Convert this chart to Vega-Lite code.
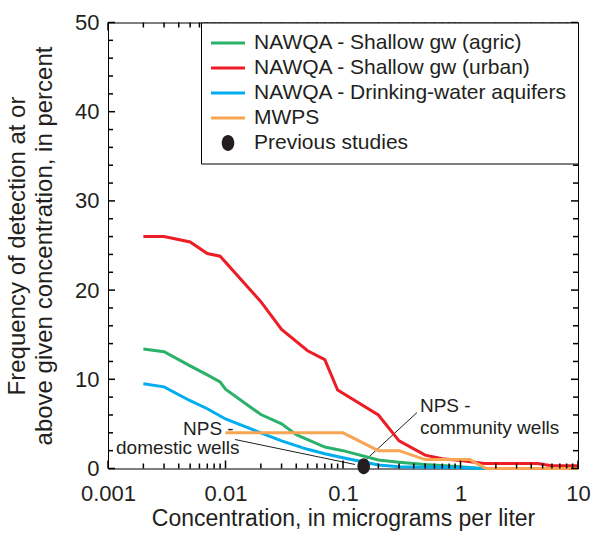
{
  "$schema": "https://vega.github.io/schema/vega-lite/v6.json",
  "width": 470,
  "height": 446,
  "autosize": {"type": "none"},
  "padding": {"left": 108, "top": 22.5, "right": 21, "bottom": 66.5},
  "background": "white",
  "config": {
    "view": {"stroke": "black", "strokeWidth": 1},
    "font": "Liberation Sans",
    "axis": {"domain": false, "grid": false, "ticks": false, "labelColor": "#231F20", "titleColor": "#231F20", "titleFontWeight": "normal", "labelFlush": false, "labelOverlap": false},
    "legend": {"labelFont": "Liberation Sans", "labelColor": "#231F20"}
  },
  "datasets": {
    "lines": [
      {"s": "NAWQA - Shallow gw (agric)", "c": 0.002, "f": 13.4},
      {"s": "NAWQA - Shallow gw (agric)", "c": 0.003, "f": 13.1},
      {"s": "NAWQA - Shallow gw (agric)", "c": 0.005, "f": 11.5},
      {"s": "NAWQA - Shallow gw (agric)", "c": 0.007, "f": 10.5},
      {"s": "NAWQA - Shallow gw (agric)", "c": 0.009, "f": 9.7},
      {"s": "NAWQA - Shallow gw (agric)", "c": 0.01, "f": 8.9},
      {"s": "NAWQA - Shallow gw (agric)", "c": 0.02, "f": 6.05},
      {"s": "NAWQA - Shallow gw (agric)", "c": 0.03, "f": 5.0},
      {"s": "NAWQA - Shallow gw (agric)", "c": 0.04, "f": 3.8},
      {"s": "NAWQA - Shallow gw (agric)", "c": 0.07, "f": 2.4},
      {"s": "NAWQA - Shallow gw (agric)", "c": 0.1, "f": 2.0},
      {"s": "NAWQA - Shallow gw (agric)", "c": 0.2, "f": 0.95},
      {"s": "NAWQA - Shallow gw (agric)", "c": 0.3, "f": 0.7},
      {"s": "NAWQA - Shallow gw (agric)", "c": 0.5, "f": 0.45},
      {"s": "NAWQA - Shallow gw (agric)", "c": 1.0, "f": 0.2},
      {"s": "NAWQA - Shallow gw (agric)", "c": 1.5, "f": 0},
      {"s": "NAWQA - Shallow gw (agric)", "c": 10, "f": 0},
      {"s": "NAWQA - Shallow gw (urban)", "c": 0.002, "f": 26.0},
      {"s": "NAWQA - Shallow gw (urban)", "c": 0.003, "f": 26.0},
      {"s": "NAWQA - Shallow gw (urban)", "c": 0.005, "f": 25.4},
      {"s": "NAWQA - Shallow gw (urban)", "c": 0.007, "f": 24.1},
      {"s": "NAWQA - Shallow gw (urban)", "c": 0.009, "f": 23.8},
      {"s": "NAWQA - Shallow gw (urban)", "c": 0.02, "f": 18.7},
      {"s": "NAWQA - Shallow gw (urban)", "c": 0.03, "f": 15.6},
      {"s": "NAWQA - Shallow gw (urban)", "c": 0.05, "f": 13.2},
      {"s": "NAWQA - Shallow gw (urban)", "c": 0.07, "f": 12.2},
      {"s": "NAWQA - Shallow gw (urban)", "c": 0.09, "f": 8.8},
      {"s": "NAWQA - Shallow gw (urban)", "c": 0.2, "f": 6.0},
      {"s": "NAWQA - Shallow gw (urban)", "c": 0.3, "f": 3.1},
      {"s": "NAWQA - Shallow gw (urban)", "c": 0.5, "f": 1.5},
      {"s": "NAWQA - Shallow gw (urban)", "c": 0.7, "f": 1.1},
      {"s": "NAWQA - Shallow gw (urban)", "c": 1.0, "f": 0.9},
      {"s": "NAWQA - Shallow gw (urban)", "c": 1.6, "f": 0.55},
      {"s": "NAWQA - Shallow gw (urban)", "c": 4.5, "f": 0.55},
      {"s": "NAWQA - Shallow gw (urban)", "c": 6.0, "f": 0.3},
      {"s": "NAWQA - Shallow gw (urban)", "c": 10, "f": 0.3},
      {"s": "NAWQA - Drinking-water aquifers", "c": 0.002, "f": 9.5},
      {"s": "NAWQA - Drinking-water aquifers", "c": 0.003, "f": 9.15},
      {"s": "NAWQA - Drinking-water aquifers", "c": 0.005, "f": 7.6},
      {"s": "NAWQA - Drinking-water aquifers", "c": 0.007, "f": 6.7},
      {"s": "NAWQA - Drinking-water aquifers", "c": 0.01, "f": 5.55},
      {"s": "NAWQA - Drinking-water aquifers", "c": 0.02, "f": 4.0},
      {"s": "NAWQA - Drinking-water aquifers", "c": 0.03, "f": 3.1},
      {"s": "NAWQA - Drinking-water aquifers", "c": 0.05, "f": 2.15},
      {"s": "NAWQA - Drinking-water aquifers", "c": 0.07, "f": 1.65},
      {"s": "NAWQA - Drinking-water aquifers", "c": 0.1, "f": 1.2},
      {"s": "NAWQA - Drinking-water aquifers", "c": 0.2, "f": 0.4},
      {"s": "NAWQA - Drinking-water aquifers", "c": 0.3, "f": 0.2},
      {"s": "NAWQA - Drinking-water aquifers", "c": 1.0, "f": 0.1},
      {"s": "NAWQA - Drinking-water aquifers", "c": 1.5, "f": 0},
      {"s": "NAWQA - Drinking-water aquifers", "c": 10, "f": 0},
      {"s": "MWPS", "c": 0.01, "f": 4.0},
      {"s": "MWPS", "c": 0.1, "f": 4.0},
      {"s": "MWPS", "c": 0.2, "f": 2.0},
      {"s": "MWPS", "c": 0.3, "f": 2.0},
      {"s": "MWPS", "c": 0.5, "f": 1.0},
      {"s": "MWPS", "c": 1.2, "f": 1.0},
      {"s": "MWPS", "c": 1.65, "f": 0},
      {"s": "MWPS", "c": 10, "f": 0}
    ],
    "pts": [
      {"s": "Previous studies", "c": 0.15, "f": 0.25}
    ],
    "notes": [
      {"t": "NPS -", "c": 0.00435, "f": 4.48},
      {"t": "domestic wells", "c": 0.00117, "f": 2.3},
      {"t": "NPS -", "c": 0.452, "f": 7.0},
      {"t": "community wells", "c": 0.452, "f": 4.53}
    ],
    "leaders": [
      {"c": 0.01205, "f": 3.25, "c2": 0.1265, "f2": 0.45},
      {"c": 0.157, "f": 1.0, "c2": 0.426, "f2": 6.27}
    ],
    "xt": [
      {"v": 0.001, "k": "major"}, {"v": 0.002, "k": "minor"}, {"v": 0.003, "k": "minor"}, {"v": 0.004, "k": "minor"}, {"v": 0.005, "k": "minor"}, {"v": 0.006, "k": "minor"}, {"v": 0.007, "k": "minor"}, {"v": 0.008, "k": "minor"}, {"v": 0.009, "k": "minor"},
      {"v": 0.01, "k": "major"}, {"v": 0.02, "k": "minor"}, {"v": 0.03, "k": "minor"}, {"v": 0.04, "k": "minor"}, {"v": 0.05, "k": "minor"}, {"v": 0.06, "k": "minor"}, {"v": 0.07, "k": "minor"}, {"v": 0.08, "k": "minor"}, {"v": 0.09, "k": "minor"},
      {"v": 0.1, "k": "major"}, {"v": 0.2, "k": "minor"}, {"v": 0.3, "k": "minor"}, {"v": 0.4, "k": "minor"}, {"v": 0.5, "k": "minor"}, {"v": 0.6, "k": "minor"}, {"v": 0.7, "k": "minor"}, {"v": 0.8, "k": "minor"}, {"v": 0.9, "k": "minor"},
      {"v": 1, "k": "major"}, {"v": 2, "k": "minor"}, {"v": 3, "k": "minor"}, {"v": 4, "k": "minor"}, {"v": 5, "k": "minor"}, {"v": 6, "k": "minor"}, {"v": 7, "k": "minor"}, {"v": 8, "k": "minor"}, {"v": 9, "k": "minor"},
      {"v": 10, "k": "major"}
    ],
    "yt": [
      {"v": 0, "k": "major"}, {"v": 2, "k": "minor"}, {"v": 4, "k": "minor"}, {"v": 6, "k": "minor"}, {"v": 8, "k": "minor"},
      {"v": 10, "k": "major"}, {"v": 12, "k": "minor"}, {"v": 14, "k": "minor"}, {"v": 16, "k": "minor"}, {"v": 18, "k": "minor"},
      {"v": 20, "k": "major"}, {"v": 22, "k": "minor"}, {"v": 24, "k": "minor"}, {"v": 26, "k": "minor"}, {"v": 28, "k": "minor"},
      {"v": 30, "k": "major"}, {"v": 32, "k": "minor"}, {"v": 34, "k": "minor"}, {"v": 36, "k": "minor"}, {"v": 38, "k": "minor"},
      {"v": 40, "k": "major"}, {"v": 42, "k": "minor"}, {"v": 44, "k": "minor"}, {"v": 46, "k": "minor"}, {"v": 48, "k": "minor"},
      {"v": 50, "k": "major"}
    ]
  },
  "resolve": {"axis": {"x": "independent", "y": "independent"}},
  "layer": [
    {
      "data": {"name": "leaders"},
      "mark": {"type": "rule", "color": "#231F20", "strokeWidth": 1},
      "encoding": {
        "x": {"field": "c", "type": "quantitative", "scale": {"type": "log", "domain": [0.001, 10], "nice": false}, "axis": null},
        "x2": {"field": "c2"},
        "y": {"field": "f", "type": "quantitative", "scale": {"domain": [0, 50], "nice": false}, "axis": null},
        "y2": {"field": "f2"}
      }
    },
    {
      "data": {"name": "lines"},
      "mark": {"type": "line", "strokeWidth": 3},
      "encoding": {
        "x": {
          "field": "c", "type": "quantitative",
          "scale": {"type": "log", "domain": [0.001, 10], "nice": false},
          "axis": {
            "orient": "bottom",
            "values": [0.001, 0.01, 0.1, 1, 10],
            "labelExpr": "format(datum.value, '~g')",
            "labelPadding": 15,
            "labelFontSize": 22,
            "title": "Concentration, in micrograms per liter",
            "titleFontSize": 23,
            "titlePadding": 3
          }
        },
        "y": {
          "field": "f", "type": "quantitative",
          "scale": {"domain": [0, 50], "nice": false},
          "axis": {
            "orient": "left",
            "values": [0, 10, 20, 30, 40, 50],
            "labelPadding": 9,
            "labelFontSize": 22,
            "title": ["Frequency of detection at or", "above given concentration, in percent"],
            "titleFontSize": 24,
            "titleLineHeight": 27,
            "titlePadding": 18
          }
        },
        "stroke": {
          "field": "s", "type": "nominal",
          "scale": {
            "domain": ["NAWQA - Shallow gw (agric)", "NAWQA - Shallow gw (urban)", "NAWQA - Drinking-water aquifers", "MWPS"],
            "range": ["#2AB26B", "#EE1C25", "#00AEEF", "#F7A552"]
          },
          "legend": null
        }
      }
    },
    {
      "data": {"name": "xt"},
      "transform": [{"filter": "datum.k == 'major'"}],
      "mark": {"type": "tick", "orient": "vertical", "size": 8, "thickness": 1.5, "yOffset": -4, "color": "#000000", "opacity": 1},
      "encoding": {
        "x": {"field": "v", "type": "quantitative", "scale": {"type": "log", "domain": [0.001, 10], "nice": false}, "axis": null},
        "y": {"datum": 0, "type": "quantitative", "scale": {"domain": [0, 50], "nice": false}, "axis": null}
      }
    },
    {
      "data": {"name": "xt"},
      "transform": [{"filter": "datum.k == 'minor'"}],
      "mark": {"type": "tick", "orient": "vertical", "size": 5, "thickness": 1.5, "yOffset": -2.5, "color": "#000000", "opacity": 1},
      "encoding": {
        "x": {"field": "v", "type": "quantitative", "scale": {"type": "log", "domain": [0.001, 10], "nice": false}, "axis": null},
        "y": {"datum": 0, "type": "quantitative", "scale": {"domain": [0, 50], "nice": false}, "axis": null}
      }
    },
    {
      "data": {"name": "xt"},
      "transform": [{"filter": "datum.k == 'major'"}],
      "mark": {"type": "tick", "orient": "vertical", "size": 8, "thickness": 1.5, "yOffset": 4, "color": "#000000", "opacity": 1},
      "encoding": {
        "x": {"field": "v", "type": "quantitative", "scale": {"type": "log", "domain": [0.001, 10], "nice": false}, "axis": null},
        "y": {"datum": 50, "type": "quantitative", "scale": {"domain": [0, 50], "nice": false}, "axis": null}
      }
    },
    {
      "data": {"name": "xt"},
      "transform": [{"filter": "datum.k == 'minor'"}],
      "mark": {"type": "tick", "orient": "vertical", "size": 5, "thickness": 1.5, "yOffset": 2.5, "color": "#000000", "opacity": 1},
      "encoding": {
        "x": {"field": "v", "type": "quantitative", "scale": {"type": "log", "domain": [0.001, 10], "nice": false}, "axis": null},
        "y": {"datum": 50, "type": "quantitative", "scale": {"domain": [0, 50], "nice": false}, "axis": null}
      }
    },
    {
      "data": {"name": "yt"},
      "transform": [{"filter": "datum.k == 'major'"}],
      "mark": {"type": "tick", "orient": "horizontal", "size": 7, "thickness": 1.5, "xOffset": 3.5, "color": "#000000", "opacity": 1},
      "encoding": {
        "y": {"field": "v", "type": "quantitative", "scale": {"domain": [0, 50], "nice": false}, "axis": null},
        "x": {"datum": 0.001, "type": "quantitative", "scale": {"type": "log", "domain": [0.001, 10], "nice": false}, "axis": null}
      }
    },
    {
      "data": {"name": "yt"},
      "transform": [{"filter": "datum.k == 'minor'"}],
      "mark": {"type": "tick", "orient": "horizontal", "size": 5, "thickness": 1.5, "xOffset": 2.5, "color": "#000000", "opacity": 1},
      "encoding": {
        "y": {"field": "v", "type": "quantitative", "scale": {"domain": [0, 50], "nice": false}, "axis": null},
        "x": {"datum": 0.001, "type": "quantitative", "scale": {"type": "log", "domain": [0.001, 10], "nice": false}, "axis": null}
      }
    },
    {
      "data": {"name": "yt"},
      "transform": [{"filter": "datum.k == 'major'"}],
      "mark": {"type": "tick", "orient": "horizontal", "size": 7, "thickness": 1.5, "xOffset": -3.5, "color": "#000000", "opacity": 1},
      "encoding": {
        "y": {"field": "v", "type": "quantitative", "scale": {"domain": [0, 50], "nice": false}, "axis": null},
        "x": {"datum": 10, "type": "quantitative", "scale": {"type": "log", "domain": [0.001, 10], "nice": false}, "axis": null}
      }
    },
    {
      "data": {"name": "yt"},
      "transform": [{"filter": "datum.k == 'minor'"}],
      "mark": {"type": "tick", "orient": "horizontal", "size": 5, "thickness": 1.5, "xOffset": -2.5, "color": "#000000", "opacity": 1},
      "encoding": {
        "y": {"field": "v", "type": "quantitative", "scale": {"domain": [0, 50], "nice": false}, "axis": null},
        "x": {"datum": 10, "type": "quantitative", "scale": {"type": "log", "domain": [0.001, 10], "nice": false}, "axis": null}
      }
    },
    {
      "data": {"name": "pts"},
      "mark": {"type": "point", "filled": true, "opacity": 1, "size": 1156, "strokeWidth": 0},
      "encoding": {
        "x": {"field": "c", "type": "quantitative", "scale": {"type": "log", "domain": [0.001, 10], "nice": false}, "axis": null},
        "y": {"field": "f", "type": "quantitative", "scale": {"domain": [0, 50], "nice": false}, "axis": null},
        "color": {
          "field": "s", "type": "nominal",
          "scale": {
            "domain": ["NAWQA - Shallow gw (agric)", "NAWQA - Shallow gw (urban)", "NAWQA - Drinking-water aquifers", "MWPS", "Previous studies"],
            "range": ["#2AB26B", "#EE1C25", "#00AEEF", "#F7A552", "#231F20"]
          },
          "legend": {"orient": "top-right", "offset": 0, "title": null, "strokeColor": "black", "fillColor": "white", "padding": 10, "labelFontSize": 21, "labelOffset": 9, "rowPadding": 3, "clipHeight": 21, "symbolSize": 1156, "symbolStrokeWidth": 0, "labelLimit": 0}
        },
        "shape": {
          "field": "s", "type": "nominal",
          "scale": {
            "domain": ["NAWQA - Shallow gw (agric)", "NAWQA - Shallow gw (urban)", "NAWQA - Drinking-water aquifers", "MWPS", "Previous studies"],
            "range": ["M-1,-0.09H1V0.09H-1Z", "M-1,-0.09H1V0.09H-1Z", "M-1,-0.09H1V0.09H-1Z", "M-1,-0.09H1V0.09H-1Z", "M0.37,0A0.37,0.47,0,1,1,-0.37,0A0.37,0.47,0,1,1,0.37,0Z"]
          },
          "legend": {"orient": "top-right", "offset": 0, "title": null, "strokeColor": "black", "fillColor": "white", "padding": 10, "labelFontSize": 21, "labelOffset": 9, "rowPadding": 3, "clipHeight": 21, "symbolSize": 1156, "symbolStrokeWidth": 0, "labelLimit": 0}
        }
      }
    },
    {
      "data": {"name": "notes"},
      "mark": {"type": "text", "align": "left", "baseline": "middle", "fontSize": 19, "color": "#231F20", "font": "Liberation Sans"},
      "encoding": {
        "x": {"field": "c", "type": "quantitative", "scale": {"type": "log", "domain": [0.001, 10], "nice": false}, "axis": null},
        "y": {"field": "f", "type": "quantitative", "scale": {"domain": [0, 50], "nice": false}, "axis": null},
        "text": {"field": "t"}
      }
    }
  ]
}
